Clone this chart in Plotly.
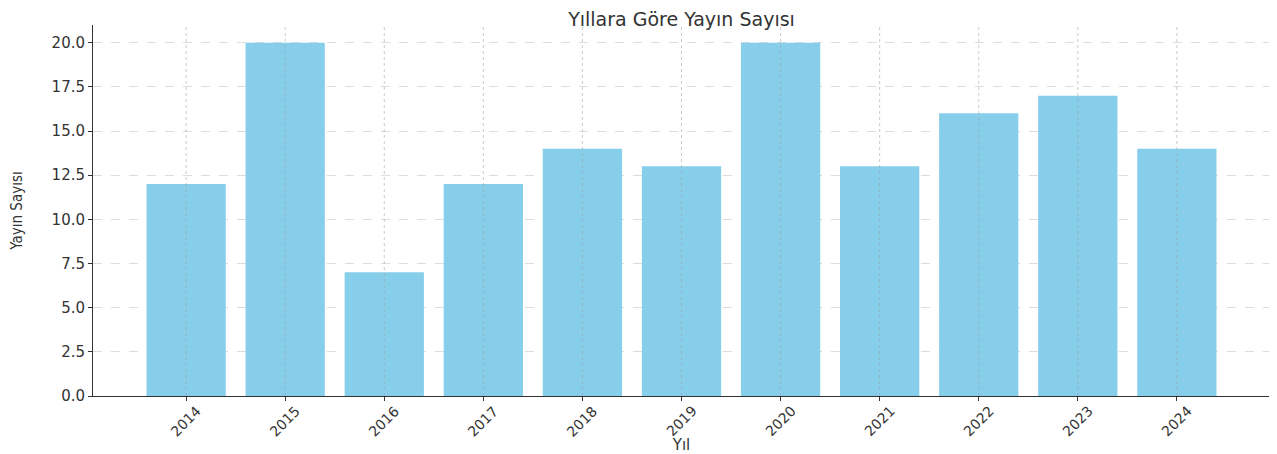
import plotly.graph_objects as go

years = ["2014", "2015", "2016", "2017", "2018", "2019", "2020", "2021", "2022", "2023", "2024"]
counts = [12, 20, 7, 12, 14, 13, 20, 13, 16, 17, 14]
y_ticks = [0, 2.5, 5, 7.5, 10, 12.5, 15, 17.5, 20]
y_tick_labels = ["0.0", "2.5", "5.0", "7.5", "10.0", "12.5", "15.0", "17.5", "20.0"]

# page body has an 8px default margin; size the figure so it fills the window
W, H = 1277 - 8, 454 - 8

fig = go.Figure()
fig.add_trace(go.Bar(
    x=list(range(len(years))), y=counts, width=0.8,
    marker=dict(color="#87CEEB", line=dict(width=0)),
))

# vertical grid drawn above bars (as in reference)
for i in range(len(years)):
    fig.add_shape(type="line", xref="x", yref="paper", x0=i, x1=i, y0=0, y1=1,
                  line=dict(color="rgba(160,160,160,0.55)", width=1, dash="dot"),
                  layer="above")

# rotated tick labels centred under their ticks (matplotlib style)
for i, lab in enumerate(years):
    fig.add_annotation(x=i, y=0, xref="x", yref="paper", text=lab, showarrow=False,
                       textangle=-45, xanchor="center", yanchor="top", yshift=-4,
                       font=dict(family="DejaVu Sans", size=14, color="#333333"))

l, r, t, b = 85, 7, 17, 58
fig.update_layout(
    width=W, height=H,
    margin=dict(l=l, r=r, t=t, b=b, autoexpand=False),
    plot_bgcolor="white", paper_bgcolor="white",
    showlegend=False,
    title=dict(text="Yıllara Göre Yayın Sayısı", x=(l + (W - r)) / 2 / W, xanchor="center",
               y=1 - 11 / H, yanchor="middle",
               font=dict(family="DejaVu Sans", size=19, color="#333333")),
    font=dict(family="DejaVu Sans", color="#333333"),
)
fig.update_xaxes(
    automargin=False,
    range=[-0.94, len(years) - 1 + 0.94],
    tickmode="array", tickvals=list(range(len(years))), showticklabels=False,
    ticks="outside", ticklen=4, tickcolor="#333333",
    showline=True, linecolor="#333333", linewidth=1,
    showgrid=False, zeroline=False,
    title=dict(text="Yıl", font=dict(size=15, color="#333333"), standoff=40),
)
fig.update_yaxes(
    automargin=False,
    range=[0, 21],
    tickmode="array", tickvals=y_ticks, ticktext=y_tick_labels,
    tickfont=dict(size=15, color="#333333"),
    ticks="outside", ticklen=4, tickcolor="#333333",
    showline=True, linecolor="#333333", linewidth=1,
    showgrid=True, gridcolor="rgba(180,180,180,0.45)", griddash="dash", gridwidth=1,
    zeroline=False,
    title=dict(text="Yayın Sayısı", font=dict(family="Liberation Sans Narrow, DejaVu Sans Condensed", size=15, color="#333333"), standoff=25),
)

fig.write_html("out.html")
